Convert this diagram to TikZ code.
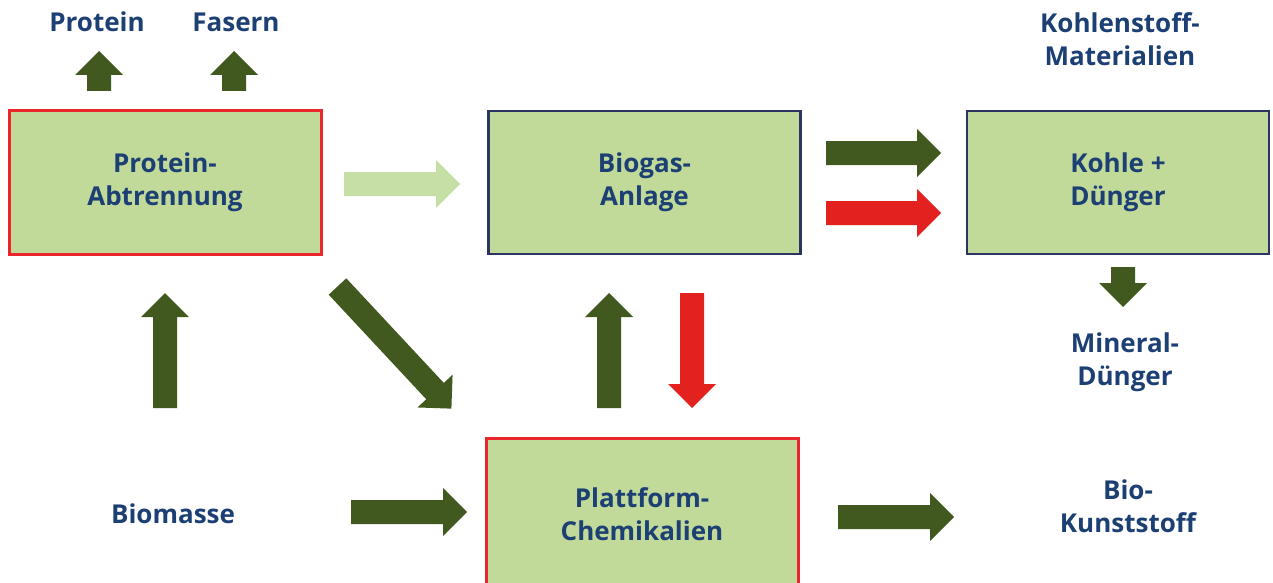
\documentclass[tikz,border=0pt]{standalone}
\usepackage{fontspec}
\setmainfont{Open Sans}
\usetikzlibrary{positioning}

\definecolor{boxgreen}{HTML}{C1DA9A}
\definecolor{arrowgreen}{HTML}{41591F}
\definecolor{palegreen}{HTML}{C6DFA6}
\definecolor{arrowred}{HTML}{E3221F}
\definecolor{framered}{HTML}{E8262B}
\definecolor{framenavy}{HTML}{2B3463}
\definecolor{textblue}{HTML}{1C3F74}

\tikzset{
  label text/.style={text=textblue, align=center, font=\bfseries\fontsize{26}{33}\selectfont},
  stage/.style={label text, draw, line width=2.5pt, fill=boxgreen, minimum width=312pt, minimum height=143pt},
  redstage/.style={stage, draw=framered, line width=3pt},
  navystage/.style={stage, draw=framenavy},
  pics/blockarrow/.style={code={
    \path[pic actions] (0,-12) -- ({#1-24},-12) -- ({#1-24},-24) -- (#1,0)
      -- ({#1-24},24) -- ({#1-24},12) -- (0,12) -- cycle;
  }},
  darkflow/.style={fill=arrowgreen},
  redflow/.style={fill=arrowred},
  paleflow/.style={fill=palegreen},
}

\begin{document}
\begin{tikzpicture}[x=1pt,y=-1pt]
    \useasboundingbox (0,0) rectangle (1273,583);
    \clip (0,0) rectangle (1273,583);
    %% process boxes
    \node[redstage] (protein) at (165,182.5) {Protein-\\Abtrennung};
    \node[navystage] (biogas) at (644.5,182.5) {Biogas-\\Anlage};
    \node[navystage, minimum width=302pt] (kohle) at (1118,182.5) {Kohle +\\Dünger};
    \node[redstage, minimum height=152pt] (plattform) at (642,514) {Plattform-\\Chemikalien};
    %% products and input
    \node[label text] (eiweiss) at (97,22) {Protein};
    \node[label text] (fasern) at (236,22) {Fasern};
    \node[label text] (kmat) at (1120,39) {Kohlenstoff-\\Materialien};
    \node[label text] (mineral) at (1125,362) {Mineral-\\Dünger};
    \node[label text] (kunststoff) at (1128,506) {Bio-\\Kunststoff};
    \node[label text] (biomasse) at (173,514) {Biomasse};
    %% upward out of the protein box
    \pic[darkflow, rotate=90] at (99,91) {blockarrow=40};
    \pic[darkflow, rotate=90] at (234,91) {blockarrow=40};
    %% top row (right)
    \pic[paleflow] at (344,184) {blockarrow=116};
    \pic[darkflow] at (826,153) {blockarrow=115};
    \pic[redflow] at (826,213) {blockarrow=115};
    \pic[darkflow, rotate=-90] at (1123,267) {blockarrow=40};
    %% middle row (trial and error)
    \pic[darkflow, rotate=90] at (165,408) {blockarrow=115};
    \pic[darkflow, rotate=-47] at (337.5,286.5) {blockarrow=167};
    \pic[darkflow, rotate=90] at (609,408) {blockarrow=115};
    \pic[redflow, rotate=-90] at (692,293) {blockarrow=115};
    %% bottom row
    \pic[darkflow] at (351,512) {blockarrow=116};
    \pic[darkflow] at (838,517) {blockarrow=116};
\end{tikzpicture}
\end{document}
